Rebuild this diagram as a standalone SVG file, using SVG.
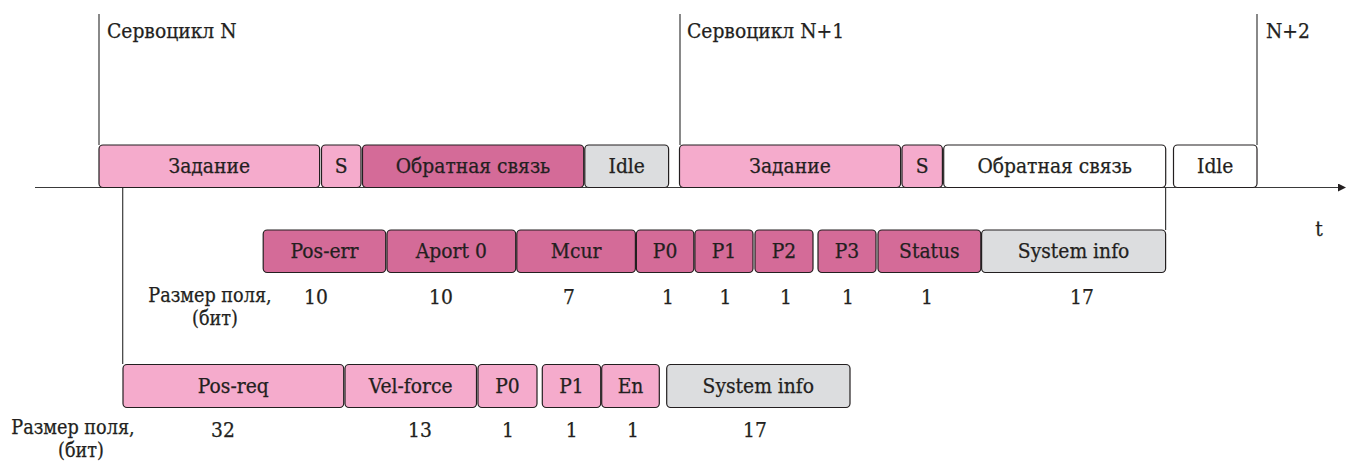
<svg xmlns="http://www.w3.org/2000/svg" width="1346" height="462" viewBox="0 0 1346 462">
<defs>
<style>
text{font-family:"DejaVu Serif",serif;font-stretch:condensed;font-size:20.8px;fill:#231f20;stroke:#231f20;stroke-width:0.25}
.c{text-anchor:middle}
.lb{font-size:19.6px}
.b{stroke:#231f20;stroke-width:1.2}
.lp{fill:#f5abcc}
.dp{fill:#d46b98}
.gr{fill:#dcdddf}
.wh{fill:#ffffff}
.ln{stroke:#3a3a3a;stroke-width:1.2;fill:none}
</style>
<marker id="arr" markerWidth="8" markerHeight="8" refX="7" refY="4" orient="auto" markerUnits="userSpaceOnUse">
<path d="M0,0 L8,4 L0,8 Z" fill="#231f20"/>
</marker>
</defs>
<g id="connectors">
<line class="ln" x1="35" y1="187.5" x2="1345" y2="187.5" marker-end="url(#arr)"/>
<line class="ln" x1="99" y1="14" x2="99" y2="145"/>
<line class="ln" x1="680" y1="14" x2="680" y2="145"/>
<line class="ln" x1="1257" y1="14" x2="1257" y2="145"/>
<line class="ln" x1="122.7" y1="187.5" x2="122.7" y2="364"/>
<line class="ln" x1="1165.6" y1="187.5" x2="1165.6" y2="230"/>
</g>
<g id="headers">
<text x="107" y="38">Сервоцикл N</text>
<text x="687" y="38">Сервоцикл N+1</text>
<text x="1266" y="38">N+2</text>
<text class="c" x="1319" y="236">t</text>
</g>
<g id="cycle-n">
<g id="n-task"><rect class="b lp" x="99" y="145" width="220.6" height="42.5" rx="4"/><text class="c" x="209.3" y="173">Задание</text></g>
<g id="n-s"><rect class="b lp" x="321.5" y="145" width="39.5" height="42.5" rx="4"/><text class="c" x="341.2" y="173">S</text></g>
<g id="n-feedback"><rect class="b dp" x="362.5" y="145" width="221.2" height="42.5" rx="4"/><text class="c" x="473" y="173">Обратная связь</text></g>
<g id="n-idle"><rect class="b gr" x="584.8" y="145" width="83.8" height="42.5" rx="4"/><text class="c" x="626.7" y="173">Idle</text></g>
</g>
<g id="cycle-n1">
<g id="n1-task"><rect class="b lp" x="679.5" y="145" width="221.1" height="42.5" rx="4"/><text class="c" x="790" y="173">Задание</text></g>
<g id="n1-s"><rect class="b lp" x="902" y="145" width="40.4" height="42.5" rx="4"/><text class="c" x="922.2" y="173">S</text></g>
<g id="n1-feedback"><rect class="b wh" x="943.7" y="145" width="222" height="42.5" rx="4"/><text class="c" x="1054.7" y="173">Обратная связь</text></g>
<g id="n1-idle"><rect class="b wh" x="1173.5" y="145" width="83.5" height="42.5" rx="4"/><text class="c" x="1215.2" y="173">Idle</text></g>
</g>
<g id="feedback-fields">
<g id="f-poserr"><rect class="b dp" x="263.2" y="230" width="122.5" height="42.5" rx="4"/><text class="c" x="324.5" y="258">Pos-err</text></g>
<g id="f-aport"><rect class="b dp" x="387" y="230" width="128.7" height="42.5" rx="4"/><text class="c" x="451.3" y="258">Aport 0</text></g>
<g id="f-mcur"><rect class="b dp" x="516.8" y="230" width="118.6" height="42.5" rx="4"/><text class="c" x="576.1" y="258">Mcur</text></g>
<g id="f-p0"><rect class="b dp" x="636.4" y="230" width="57.4" height="42.5" rx="4"/><text class="c" x="665.1" y="258">P0</text></g>
<g id="f-p1"><rect class="b dp" x="694.9" y="230" width="58.1" height="42.5" rx="4"/><text class="c" x="724" y="258">P1</text></g>
<g id="f-p2"><rect class="b dp" x="755" y="230" width="58" height="42.5" rx="4"/><text class="c" x="784" y="258">P2</text></g>
<g id="f-p3"><rect class="b dp" x="818" y="230" width="58" height="42.5" rx="4"/><text class="c" x="847" y="258">P3</text></g>
<g id="f-status"><rect class="b dp" x="878" y="230" width="102.8" height="42.5" rx="4"/><text class="c" x="929.4" y="258">Status</text></g>
<g id="f-sysinfo"><rect class="b gr" x="981.6" y="230" width="184" height="42.5" rx="4"/><text class="c" x="1073.6" y="258">System info</text></g>
<text class="c lb" x="210" y="302">Размер поля,</text>
<text class="c lb" x="215" y="325">(бит)</text>
<text class="c" x="316" y="304">10</text>
<text class="c" x="441" y="304">10</text>
<text class="c" x="569" y="304">7</text>
<text class="c" x="668" y="304">1</text>
<text class="c" x="725.5" y="304">1</text>
<text class="c" x="786" y="304">1</text>
<text class="c" x="848" y="304">1</text>
<text class="c" x="927" y="304">1</text>
<text class="c" x="1082" y="304">17</text>
</g>
<g id="task-fields">
<g id="t-posreq"><rect class="b lp" x="123" y="364.5" width="220.7" height="43" rx="4"/><text class="c" x="233.3" y="393">Pos-req</text></g>
<g id="t-velforce"><rect class="b lp" x="345" y="364.5" width="131.5" height="43" rx="4"/><text class="c" x="410.7" y="393">Vel-force</text></g>
<g id="t-p0"><rect class="b lp" x="478" y="364.5" width="59" height="43" rx="4"/><text class="c" x="507.5" y="393">P0</text></g>
<g id="t-p1"><rect class="b lp" x="542.3" y="364.5" width="58.4" height="43" rx="4"/><text class="c" x="571.5" y="393">P1</text></g>
<g id="t-en"><rect class="b lp" x="601.7" y="364.5" width="57.6" height="43" rx="4"/><text class="c" x="630.5" y="393">En</text></g>
<g id="t-sysinfo"><rect class="b gr" x="666.7" y="364.5" width="183.3" height="43" rx="4"/><text class="c" x="758.3" y="393">System info</text></g>
<text class="c lb" x="73" y="433.5">Размер поля,</text>
<text class="c lb" x="81" y="456.5">(бит)</text>
<text class="c" x="223" y="437">32</text>
<text class="c" x="420" y="437">13</text>
<text class="c" x="508" y="437">1</text>
<text class="c" x="571.7" y="437">1</text>
<text class="c" x="633" y="437">1</text>
<text class="c" x="755" y="437">17</text>
</g>
</svg>
